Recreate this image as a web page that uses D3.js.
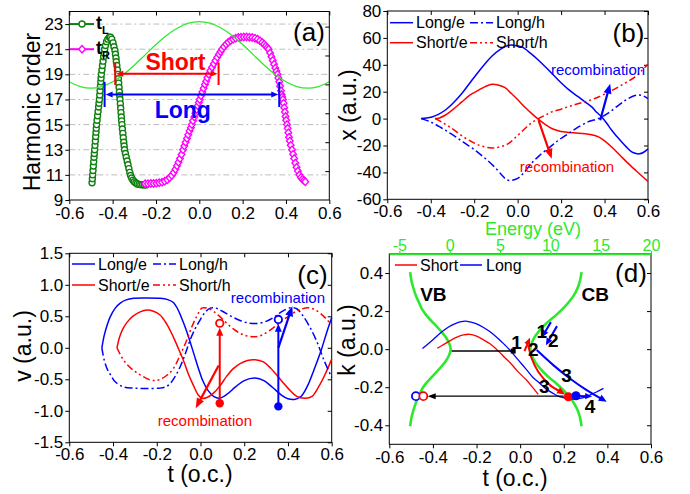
<!DOCTYPE html>
<html>
<head>
<meta charset="utf-8">
<script src="https://cdn.jsdelivr.net/npm/d3@7"></script>
<style>
  body { margin: 0; background: #fff; }
  svg { font-family: Arial, "Liberation Sans", sans-serif; }
</style>
</head>
<body>
<svg id="fig" width="690" height="494"></svg>
<script>
// ---------- shared ticks
const timeTicks = [-0.6, -0.4, -0.2, 0.0, 0.2, 0.4, 0.6];

// ---------- panel (a): harmonic order vs time
const orderTicks = [9, 11, 13, 15, 17, 19, 21, 23];
const orderRightTicks = [11.3, 13.6, 15.9, 18.2, 20.5, 22.8];
const fieldLine = [[-0.6,18.41],[-0.55,18.03],[-0.5,17.9],[-0.45,18.03],[-0.4,18.41],[-0.35,18.99],[-0.3,19.73],[-0.25,20.55],[-0.2,21.37],[-0.15,22.11],[-0.1,22.69],[-0.05,23.07],[0,23.2],[0.05,23.07],[0.1,22.69],[0.15,22.11],[0.2,21.37],[0.25,20.55],[0.3,19.73],[0.35,18.99],[0.4,18.41],[0.45,18.03],[0.5,17.9],[0.55,18.03],[0.6,18.41]];
const tLPoints = [[-0.495,10.37],[-0.4935,10.7],[-0.492,11.0],[-0.4905,11.35],[-0.489,11.7],[-0.4874,12.05],[-0.4858,12.4],[-0.4844,12.7],[-0.483,13.0],[-0.4814,13.35],[-0.4798,13.7],[-0.4783,14.05],[-0.4767,14.4],[-0.4754,14.7],[-0.474,15.0],[-0.4717,15.35],[-0.4695,15.7],[-0.4672,16.05],[-0.4649,16.4],[-0.463,16.7],[-0.461,17.0],[-0.4594,17.35],[-0.4579,17.7],[-0.4563,18.05],[-0.4547,18.4],[-0.4534,18.7],[-0.452,19.0],[-0.4494,19.35],[-0.4468,19.7],[-0.4441,20.05],[-0.4415,20.4],[-0.4393,20.7],[-0.437,21.0],[-0.433,21.3],[-0.428,21.6],[-0.422,21.8],[-0.415,21.95],[-0.41,21.95],[-0.404,21.8],[-0.398,21.5],[-0.394,21.2],[-0.3894,20.9],[-0.387,20.6],[-0.3846,20.3],[-0.383,20.0],[-0.3806,19.7],[-0.3778,19.35],[-0.375,19.0],[-0.3734,18.65],[-0.3719,18.3],[-0.3703,17.95],[-0.3687,17.6],[-0.3674,17.3],[-0.366,17.0],[-0.3644,16.65],[-0.3629,16.3],[-0.3613,15.95],[-0.3597,15.6],[-0.3584,15.3],[-0.357,15.0],[-0.3549,14.65],[-0.3528,14.3],[-0.3507,13.95],[-0.3486,13.6],[-0.3468,13.3],[-0.345,13.0],[-0.341,12.7],[-0.337,12.4],[-0.333,12.1],[-0.329,11.8],[-0.325,11.5],[-0.321,11.2],[-0.317,10.95],[-0.312,10.75],[-0.306,10.58],[-0.3,10.45],[-0.293,10.35],[-0.286,10.28],[-0.278,10.24],[-0.27,10.22],[-0.262,10.21],[-0.254,10.2],[-0.246,10.2]];
const tRPoints = [[-0.25,10.3],[-0.237,10.3],[-0.224,10.31],[-0.211,10.32],[-0.198,10.34],[-0.185,10.37],[-0.172,10.42],[-0.16,10.5],[-0.148,10.62],[-0.137,10.77],[-0.127,10.95],[-0.118,11.18],[-0.11,11.45],[-0.103,11.72],[-0.096,12.0],[-0.089,12.3],[-0.082,12.62],[-0.075,13.0],[-0.069,13.3],[-0.063,13.6],[-0.057,13.9],[-0.051,14.2],[-0.045,14.5],[-0.039,14.75],[-0.034,15.0],[-0.029,15.3],[-0.023,15.6],[-0.018,15.9],[-0.012,16.2],[-0.007,16.5],[-0.002,16.75],[0.002,17.0],[0.008,17.3],[0.014,17.6],[0.02,17.9],[0.026,18.2],[0.032,18.45],[0.037,18.72],[0.043,19.0],[0.051,19.28],[0.059,19.56],[0.067,19.84],[0.075,20.1],[0.083,20.35],[0.091,20.6],[0.098,20.8],[0.105,21.0],[0.114,21.2],[0.124,21.4],[0.134,21.56],[0.145,21.7],[0.156,21.8],[0.168,21.88],[0.18,21.93],[0.192,21.96],[0.205,21.97],[0.218,21.97],[0.231,21.96],[0.244,21.93],[0.257,21.88],[0.269,21.8],[0.28,21.68],[0.29,21.54],[0.299,21.4],[0.307,21.25],[0.314,21.12],[0.32,21.0],[0.327,20.7],[0.333,20.4],[0.339,20.1],[0.345,19.8],[0.351,19.5],[0.356,19.25],[0.361,19.0],[0.365,18.7],[0.369,18.4],[0.373,18.05],[0.377,17.7],[0.38,17.4],[0.383,17.2],[0.386,17.0],[0.389,16.7],[0.392,16.35],[0.395,16.0],[0.398,15.65],[0.401,15.35],[0.405,15.0],[0.408,14.7],[0.411,14.35],[0.414,14.0],[0.418,13.7],[0.422,13.35],[0.428,13.0],[0.433,12.65],[0.438,12.3],[0.443,11.95],[0.449,11.6],[0.455,11.3],[0.462,11.0],[0.469,10.8],[0.476,10.65],[0.483,10.55],[0.489,10.45]];
// [start t, end t, order of arrow, bar bottom, bar top]
const shortSpan = [-0.388, 0.089, 19.05, 18.15, 19.95];
const longSpan = [-0.437, 0.369, 17.4, 16.4, 18.4];

// ---------- panel (b): x (a.u.) vs time
const xPosTicks = [-60, -40, -20, 0, 20, 40, 60, 80];
const longEB = [[-0.445,0],[-0.42,0.4],[-0.395,1.2],[-0.365,3.2],[-0.334,6.2],[-0.3,11],[-0.257,18.6],[-0.22,26.5],[-0.181,34.7],[-0.15,40.8],[-0.119,46.4],[-0.08,51.5],[-0.045,54.4],[-0.02,54.6],[0.019,53.3],[0.06,48.5],[0.096,43.4],[0.14,36.5],[0.188,28.5],[0.235,21.5],[0.28,16.1],[0.31,12.5],[0.341,8.7],[0.365,4.5],[0.387,1.2],[0.41,-3.5],[0.433,-8.7],[0.456,-13.2],[0.479,-17.4],[0.5,-21],[0.525,-24.8],[0.545,-26],[0.56,-26.2],[0.58,-25],[0.6,-22.5]];
const longHB = [[-0.445,0],[-0.4,-2.5],[-0.35,-7],[-0.3,-12],[-0.25,-17.5],[-0.2,-23],[-0.15,-29.5],[-0.1,-37],[-0.07,-42.5],[-0.05,-45.5],[-0.03,-46],[0.0,-44.5],[0.03,-40],[0.065,-33],[0.1,-27.5],[0.15,-21],[0.188,-16.1],[0.23,-11.5],[0.28,-6.2],[0.33,-2],[0.372,0],[0.42,4.5],[0.464,9.9],[0.5,14],[0.54,17.2],[0.56,17.5],[0.58,16.8],[0.6,14.9]];
const shortEB = [[-0.38,0],[-0.36,0.5],[-0.334,2.5],[-0.3,6.5],[-0.257,12.4],[-0.22,17.5],[-0.181,21],[-0.15,23.8],[-0.119,25.5],[-0.09,25],[-0.058,23],[-0.03,18.8],[0.003,13.6],[0.035,8.2],[0.065,3.7],[0.09,0.3],[0.111,-2.5],[0.135,-5.2],[0.157,-7.4],[0.19,-9.2],[0.218,-9.9],[0.26,-10.6],[0.31,-11.2],[0.34,-12],[0.372,-13.6],[0.4,-16.5],[0.433,-21.1],[0.47,-27],[0.51,-33.5],[0.55,-39.5],[0.6,-46.7]];
const shortHB = [[-0.38,0],[-0.35,-2.5],[-0.32,-5.5],[-0.288,-9],[-0.25,-13.5],[-0.211,-17.2],[-0.17,-20.2],[-0.119,-21.8],[-0.08,-21],[-0.043,-18.6],[-0.01,-14],[0.034,-7.4],[0.065,-3],[0.096,0],[0.13,2.8],[0.157,5],[0.2,7],[0.24,9.2],[0.28,11.2],[0.33,13.5],[0.372,16.1],[0.42,19.8],[0.464,23.6],[0.5,27],[0.541,31],[0.57,35.5],[0.6,40.5]];
const recombLongB = [[0.38,-1.2],[0.426,26]];
const recombShortB = [[0.096,-1.2],[0.157,-29.8]];

// ---------- panel (c): v (a.u.) vs time
const velTicks = [-1.5, -1.0, -0.5, 0.0, 0.5, 1.0, 1.5];
const longEC = [[-0.451,0],[-0.44,0.2],[-0.425,0.38],[-0.413,0.49],[-0.39,0.63],[-0.367,0.71],[-0.34,0.76],[-0.306,0.785],[-0.25,0.79],[-0.185,0.785],[-0.15,0.765],[-0.124,0.72],[-0.105,0.62],[-0.086,0.47],[-0.067,0.3],[-0.048,0.1],[-0.03,-0.1],[-0.012,-0.3],[0.01,-0.52],[0.035,-0.68],[0.06,-0.77],[0.085,-0.8],[0.12,-0.74],[0.16,-0.62],[0.2,-0.52],[0.25,-0.48],[0.29,-0.52],[0.33,-0.63],[0.37,-0.75],[0.4,-0.81],[0.43,-0.82],[0.46,-0.77],[0.49,-0.6],[0.52,-0.34],[0.55,-0.06],[0.575,0.22],[0.6,0.48]];
const longHC = [[-0.451,0],[-0.44,-0.2],[-0.425,-0.35],[-0.413,-0.42],[-0.39,-0.54],[-0.352,-0.62],[-0.306,-0.64],[-0.25,-0.645],[-0.185,-0.64],[-0.16,-0.62],[-0.139,-0.57],[-0.115,-0.45],[-0.093,-0.3],[-0.07,-0.1],[-0.048,0.12],[-0.025,0.3],[-0.002,0.44],[0.02,0.56],[0.044,0.63],[0.07,0.63],[0.1,0.58],[0.13,0.52],[0.17,0.45],[0.211,0.4],[0.258,0.385],[0.3,0.42],[0.334,0.48],[0.37,0.57],[0.41,0.635],[0.44,0.62],[0.47,0.5],[0.5,0.33],[0.532,0.1],[0.565,-0.2],[0.6,-0.47]];
const shortEC = [[-0.382,0],[-0.37,0.17],[-0.355,0.3],[-0.337,0.4],[-0.31,0.5],[-0.276,0.57],[-0.245,0.6],[-0.215,0.58],[-0.185,0.52],[-0.155,0.38],[-0.124,0.17],[-0.1,-0.02],[-0.078,-0.2],[-0.055,-0.42],[-0.032,-0.6],[-0.012,-0.74],[0.006,-0.8],[0.03,-0.79],[0.059,-0.72],[0.09,-0.6],[0.12,-0.45],[0.15,-0.33],[0.181,-0.25],[0.215,-0.2],[0.25,-0.19],[0.285,-0.22],[0.32,-0.32],[0.36,-0.48],[0.4,-0.64],[0.44,-0.77],[0.48,-0.8],[0.51,-0.77],[0.54,-0.62],[0.57,-0.42],[0.6,-0.18]];
const shortHC = [[-0.382,0],[-0.36,-0.15],[-0.337,-0.26],[-0.306,-0.36],[-0.276,-0.43],[-0.23,-0.51],[-0.205,-0.52],[-0.185,-0.5],[-0.155,-0.44],[-0.124,-0.33],[-0.095,-0.13],[-0.063,0.12],[-0.04,0.33],[-0.017,0.5],[0.006,0.63],[0.03,0.63],[0.059,0.58],[0.09,0.49],[0.12,0.39],[0.15,0.3],[0.181,0.23],[0.21,0.19],[0.242,0.175],[0.28,0.2],[0.334,0.32],[0.37,0.42],[0.41,0.52],[0.45,0.6],[0.493,0.635],[0.52,0.61],[0.547,0.55],[0.575,0.46],[0.6,0.36]];
// [t, electron v, hole v]
const recombShortC = [0.088, -0.88, 0.39];
const recombLongC = [0.356, -0.93, 0.45];
const diagShortC = [[0.083,-0.28],[-0.022,-0.96]];
const diagLongC = [[0.356,0.0],[0.42,0.66]];

// ---------- panel (d): k (a.u.) vs time / energy
const kTicks = [-0.4, -0.2, 0.0, 0.2, 0.4];
const energyTicks = [-5, 0, 5, 10, 15, 20];
const valenceBand = [[-3.93,0.405],[-3.8,0.36],[-3.6,0.32],[-3.35,0.28],[-3.05,0.245],[-2.75,0.21],[-2.35,0.18],[-1.85,0.15],[-1.3,0.12],[-0.8,0.09],[-0.35,0.06],[-0.05,0.03],[0.1,0],[-0.05,-0.03],[-0.35,-0.06],[-0.8,-0.09],[-1.3,-0.12],[-1.85,-0.15],[-2.35,-0.18],[-2.75,-0.21],[-3.05,-0.245],[-3.35,-0.28],[-3.6,-0.32],[-3.8,-0.36],[-3.93,-0.405]];
const conductionBand = [[13.1,0.405],[12.95,0.36],[12.7,0.32],[12.3,0.28],[11.8,0.245],[11.2,0.21],[10.6,0.18],[9.9,0.15],[9.3,0.12],[8.8,0.09],[8.4,0.06],[8.15,0.03],[8.0,0],[8.15,-0.03],[8.4,-0.06],[8.8,-0.09],[9.3,-0.12],[9.9,-0.15],[10.6,-0.18],[11.2,-0.21],[11.8,-0.245],[12.3,-0.28],[12.7,-0.32],[12.95,-0.36],[13.1,-0.405]];
const longKD = [[-0.448,0.003],[-0.42,0.03],[-0.39,0.06],[-0.36,0.09],[-0.33,0.115],[-0.3,0.133],[-0.27,0.145],[-0.25,0.147],[-0.23,0.143],[-0.2,0.133],[-0.17,0.115],[-0.138,0.091],[-0.1,0.055],[-0.07,0.022],[-0.047,-0.005],[-0.01,-0.055],[0.031,-0.11],[0.06,-0.15],[0.091,-0.18],[0.12,-0.21],[0.152,-0.233],[0.18,-0.25],[0.213,-0.259],[0.235,-0.262],[0.259,-0.262],[0.29,-0.255],[0.32,-0.241],[0.35,-0.225],[0.382,-0.206]];
const shortKD = [[-0.38,0.005],[-0.35,0.025],[-0.32,0.045],[-0.29,0.063],[-0.26,0.075],[-0.23,0.078],[-0.2,0.068],[-0.17,0.05],[-0.138,0.028],[-0.1,-0.01],[-0.07,-0.045],[-0.047,-0.07],[-0.01,-0.118],[0.031,-0.165],[0.06,-0.205],[0.083,-0.238]];
const ionLineD = [[-0.314,-0.01],[-0.032,-0.01]];
const recombLineD = [[0.2,-0.247],[-0.424,-0.247]];
const electronDotsD = [[0.221,-0.25,"#ff0000"],[0.256,-0.245,"#0000ff"]];
const holeDotsD = [[-0.478,-0.247,"#0000ff"],[-0.444,-0.247,"#ff0000"]];
const shortUpD = [[0.02,-0.01],[0.045,0.06]];
const shortDownD = [[0.037,0.021],[0.053,-0.049],[0.083,-0.119],[0.137,-0.189],[0.206,-0.238]];
const longStep1D = [[0.141,0.142],[0.1,0.063]];
const longStep2D = [[0.169,0.121],[0.118,0.021]];
const longDownD = [[0.076,-0.005],[0.152,-0.084],[0.228,-0.154],[0.305,-0.215],[0.397,-0.277]];
const longSideD = [[0.26,-0.246],[0.33,-0.248]];
const stepLabelsD = [["1",-0.016,0.038],["2",0.06,-0.002],["1",0.099,0.096],["2",0.152,0.047],["3",0.213,-0.136],["3",0.111,-0.198],["4",0.32,-0.303]];

// ---------- colours
const BLUE = "#0000ff", RED = "#ff0000", MAG = "#ff00ff", DKGREEN = "#0f7f0f", GREEN = "#2ee82e";
const DASH_DOT = "8,3,2,3", DASH_DOT_DOT = "7,3,2,3,2,3";

const svg = d3.select("#fig");

// ---------- helpers
const fmt1 = d => d.toFixed(1);
const fmtInt = d => String(d);

function drawFrame(x, y, xTicks, yTicks, fmtX, fmtY, opts = {}) {
    const [xl, xr] = x.range(), [yb, yt] = y.range();
    const g = svg.append("g");
    g.append("g").attr("transform", `translate(0,${yb})`)
        .call(d3.axisBottom(x).tickValues(xTicks).tickFormat(fmtX).tickSize(4).tickPadding(opts.padX || 3).tickSizeOuter(0));
    g.append("g").attr("transform", `translate(${xl},0)`)
        .call(d3.axisLeft(y).tickValues(yTicks).tickFormat(fmtY).tickSize(4).tickPadding(2).tickSizeOuter(0));
    if (!opts.noTop) {
        g.append("g").attr("transform", `translate(0,${yt})`)
            .call(d3.axisTop(x).tickValues(xTicks).tickFormat("").tickSize(-4).tickSizeOuter(0));
    }
    g.append("g").attr("transform", `translate(${xr},0)`)
        .call(d3.axisRight(y).tickValues(opts.rightTicks || yTicks).tickFormat("").tickSize(-4).tickSizeOuter(0));
    g.selectAll(".domain").remove();
    g.selectAll("g").attr("font-family", null).attr("font-size", 17);
    g.selectAll(".tick text").attr("fill", "#000");
    g.selectAll(".tick line").attr("stroke", "#000");
    g.append("rect")
        .attr("x", xl).attr("y", yt).attr("width", xr - xl).attr("height", yb - yt)
        .attr("fill", "none").attr("stroke", "#000").attr("stroke-width", 1);
    return g;
}

function drawCurve(g, pts, x, y, color, dash, width = 1.5) {
    g.append("path").datum(pts)
        .attr("d", d3.line().x(d => x(d[0])).y(d => y(d[1])).curve(d3.curveCatmullRom.alpha(0.5)))
        .attr("fill", "none").attr("stroke", color).attr("stroke-width", width)
        .attr("stroke-dasharray", dash || null);
}

function arrowHead(g, xa, ya, xb, yb, color, len = 8, half = 3.5) {
    const a = Math.atan2(yb - ya, xb - xa);
    const c = Math.cos(a), s = Math.sin(a);
    const p = [[xb, yb],
        [xb - len * c + half * s, yb - len * s - half * c],
        [xb - len * c - half * s, yb - len * s + half * c]];
    g.append("polygon").attr("points", p.map(q => q.join(",")).join(" ")).attr("fill", color);
}

function drawArrow(g, pts, x, y, color, width = 2, len = 8, half = 3.5) {
    const px = pts.map(d => [x(d[0]), y(d[1])]);
    const n = px.length;
    const [xa, ya] = px[n - 2], [xb, yb] = px[n - 1];
    const a = Math.atan2(yb - ya, xb - xa);
    const trimmed = px.slice(0, n - 1).concat([[xb - len * 0.7 * Math.cos(a), yb - len * 0.7 * Math.sin(a)]]);
    g.append("path").datum(trimmed)
        .attr("d", d3.line().curve(n > 2 ? d3.curveCatmullRom : d3.curveLinear))
        .attr("fill", "none").attr("stroke", color).attr("stroke-width", width);
    arrowHead(g, xa, ya, xb, yb, color, len, half);
}

function addText(g, x, y, str, size, color = "#000", opts = {}) {
    const t = g.append("text").attr("x", x).attr("y", y).attr("dy", "0.35em")
        .attr("font-size", size).attr("fill", color)
        .attr("text-anchor", opts.anchor || "middle")
        .text(str);
    if (opts.bold) t.attr("font-weight", "bold");
    if (opts.rotate) t.attr("transform", `rotate(-90,${x},${y})`);
    return t;
}

function legendRow(g, x0, yRow, color, dash, label) {
    g.append("line").attr("x1", x0).attr("x2", x0 + 23).attr("y1", yRow).attr("y2", yRow)
        .attr("stroke", color).attr("stroke-width", 1.5).attr("stroke-dasharray", dash || null);
    addText(g, x0 + 26, yRow, label, 16, "#000", {anchor: "start"});
}

// =============== panel (a)
const xA = d3.scaleLinear().domain([-0.6, 0.6]).range([69.3, 329.3]);
const yA = d3.scaleLinear().domain([9, 24]).range([200, 11.5]);
const gA = svg.append("g");
gA.selectAll("line.grid").data(orderTicks.filter(d => d > 9)).join("line")
    .attr("x1", xA.range()[0]).attr("x2", xA.range()[1])
    .attr("y1", d => yA(d)).attr("y2", d => yA(d))
    .attr("stroke", "#bdbdbd").attr("stroke-width", 1).attr("stroke-dasharray", "6,3,2,3");
drawFrame(xA, yA, timeTicks, orderTicks, fmt1, fmtInt, {rightTicks: orderRightTicks, padX: 3});

const diamond = "M0,-3.7L3.3,0L0,3.7L-3.3,0Z";
gA.selectAll("circle.tl").data(tLPoints).join("circle")
    .attr("cx", d => xA(d[0])).attr("cy", d => yA(d[1])).attr("r", 3)
    .attr("fill", "#fff").attr("stroke", DKGREEN).attr("stroke-width", 1.4);
gA.selectAll("path.tr").data(tRPoints).join("path")
    .attr("d", diamond).attr("transform", d => `translate(${xA(d[0])},${yA(d[1])})`)
    .attr("fill", "#fff").attr("stroke", MAG).attr("stroke-width", 1.4);
drawCurve(gA, fieldLine, xA, yA, GREEN, null, 1.3);

function spanArrow(g, span, color) {
    const [t0, t1, q, qb, qt] = span;
    const xa = xA(t0), xb = xA(t1), yy = yA(q);
    g.append("line").attr("x1", xa + 5).attr("x2", xb - 5).attr("y1", yy).attr("y2", yy)
        .attr("stroke", color).attr("stroke-width", 2);
    arrowHead(g, xb, yy, xa + 1, yy, color, 7, 3);
    arrowHead(g, xa, yy, xb - 1, yy, color, 7, 3);
    [xa, xb].forEach(xx => g.append("line").attr("x1", xx).attr("x2", xx)
        .attr("y1", yA(qb)).attr("y2", yA(qt)).attr("stroke", color).attr("stroke-width", 2));
}
spanArrow(gA, shortSpan, RED);
spanArrow(gA, longSpan, BLUE);
addText(gA, xA(-0.11), yA(20.0), "Short", 23, RED, {bold: true});
addText(gA, xA(-0.076), yA(16.2), "Long", 23, BLUE, {bold: true});
addText(gA, 309, 32, "(a)", 26);

// legend (a)
gA.append("line").attr("x1", 70).attr("x2", 94).attr("y1", yA(23)).attr("y2", yA(23)).attr("stroke", DKGREEN).attr("stroke-width", 2);
gA.append("circle").attr("cx", 82).attr("cy", yA(23)).attr("r", 3).attr("fill", "#fff").attr("stroke", DKGREEN).attr("stroke-width", 1.4);
gA.append("line").attr("x1", 70).attr("x2", 94).attr("y1", yA(21)).attr("y2", yA(21)).attr("stroke", MAG).attr("stroke-width", 2);
gA.append("path").attr("d", diamond).attr("transform", `translate(82,${yA(21)})`).attr("fill", "#fff").attr("stroke", MAG).attr("stroke-width", 1.4);
[["L", 23], ["R", 21]].forEach(([sub, q]) => {
    const t = gA.append("text").attr("x", 96).attr("y", yA(q) + 5)
        .attr("font-size", 18).attr("font-weight", "bold").text("t");
    t.append("tspan").attr("font-size", 11).attr("dy", 5).text(sub);
});
addText(svg, 31.5, 112, "Harmonic order", 23, "#000", {rotate: true});

// =============== panel (b)
const xB = d3.scaleLinear().domain([-0.6, 0.6]).range([387.3, 648]);
const yB = d3.scaleLinear().domain([-60, 80]).range([199.3, 11]);
drawFrame(xB, yB, timeTicks, xPosTicks, fmt1, fmtInt, {padX: 2});
const gB = svg.append("g");
drawCurve(gB, longEB, xB, yB, BLUE);
drawCurve(gB, shortEB, xB, yB, RED);
drawCurve(gB, longHB, xB, yB, BLUE, DASH_DOT);
drawCurve(gB, shortHB, xB, yB, RED, DASH_DOT_DOT);
drawArrow(gB, recombLongB, xB, yB, BLUE, 2.2, 10, 4);
drawArrow(gB, recombShortB, xB, yB, RED, 2.2, 10, 4);
addText(gB, xB(0.37), yB(36), "recombination", 15, BLUE);
addText(gB, xB(0.227), yB(-36), "recombination", 15, RED);
legendRow(gB, 390, 22.7, BLUE, null, "Long/e");
legendRow(gB, 470, 22.7, BLUE, DASH_DOT, "Long/h");
legendRow(gB, 390, 42.7, RED, null, "Short/e");
legendRow(gB, 470, 42.7, RED, DASH_DOT_DOT, "Short/h");
addText(gB, 628.5, 33, "(b)", 26);
addText(svg, 348, 105, "x (a.u.)", 23, "#000", {rotate: true});

// =============== panel (c)
const xC = d3.scaleLinear().domain([-0.6, 0.6]).range([69.3, 331.7]);
const yC = d3.scaleLinear().domain([-1.5, 1.5]).range([442.3, 253.3]);
drawFrame(xC, yC, timeTicks, velTicks, fmt1, fmt1, {padX: 2});
const gC = svg.append("g");
drawCurve(gC, longEC, xC, yC, BLUE);
drawCurve(gC, shortEC, xC, yC, RED);
drawCurve(gC, longHC, xC, yC, BLUE, DASH_DOT);
drawCurve(gC, shortHC, xC, yC, RED, DASH_DOT_DOT);
[[recombShortC, RED], [recombLongC, BLUE]].forEach(([r, col]) => {
    const [t, ve, vh] = r;
    drawArrow(gC, [[t, ve], [t, vh - 0.07]], xC, yC, col, 2, 8, 3.5);
    gC.append("circle").attr("cx", xC(t)).attr("cy", yC(ve)).attr("r", 4.2).attr("fill", col);
    gC.append("circle").attr("cx", xC(t)).attr("cy", yC(vh)).attr("r", 3.7)
        .attr("fill", "#fff").attr("stroke", col).attr("stroke-width", 1.8);
});
drawArrow(gC, diagShortC, xC, yC, RED, 2.2, 10, 4);
drawArrow(gC, diagLongC, xC, yC, BLUE, 2.2, 10, 4);
addText(gC, xC(0.02), yC(-1.16), "recombination", 15, RED);
addText(gC, xC(0.354), yC(0.8), "recombination", 15, BLUE);
legendRow(gC, 72, 264, BLUE, null, "Long/e");
legendRow(gC, 153, 264, BLUE, DASH_DOT, "Long/h");
legendRow(gC, 72, 285, RED, null, "Short/e");
legendRow(gC, 153, 285, RED, DASH_DOT_DOT, "Short/h");
addText(gC, 312.5, 275, "(c)", 26);
addText(svg, 22.5, 346, "v (a.u.)", 23, "#000", {rotate: true});
addText(svg, 200, 474, "t (o.c.)", 23);

// =============== panel (d)
const xD = d3.scaleLinear().domain([-0.6, 0.6]).range([389.3, 651]);
const yD = d3.scaleLinear().domain([-0.5, 0.5]).range([444.3, 254]);
const eD = d3.scaleLinear().domain([-6, 20]).range([389.3, 651]);
drawFrame(xD, yD, timeTicks, kTicks, fmt1, fmt1, {noTop: true, padX: 3});
const topAxis = svg.append("g").attr("transform", `translate(0,${yD.range()[1]})`)
    .call(d3.axisTop(eD).tickValues(energyTicks).tickFormat(fmtInt).tickSize(3).tickPadding(0).tickSizeOuter(0));
topAxis.attr("font-family", null).attr("font-size", 16);
topAxis.select(".domain").attr("stroke", GREEN).attr("stroke-width", 1.5);
topAxis.selectAll(".tick line").attr("stroke", GREEN).attr("stroke-width", 1.2);
topAxis.selectAll(".tick text").attr("fill", GREEN);
addText(svg, 533, 229, "Energy (eV)", 18, GREEN);

const gD = svg.append("g");
[valenceBand, conductionBand].forEach(band => {
    gD.append("path").datum(band)
        .attr("d", d3.line().x(d => eD(d[0])).y(d => yD(d[1])).curve(d3.curveCatmullRom.alpha(0.5)))
        .attr("fill", "none").attr("stroke", GREEN).attr("stroke-width", 2.6);
});
drawCurve(gD, longKD, xD, yD, BLUE, null, 1.3);
drawCurve(gD, shortKD, xD, yD, RED, null, 1.3);
// ionisation (black line + square) and recombination (black arrow)
gD.append("line").attr("x1", xD(ionLineD[0][0])).attr("x2", xD(ionLineD[1][0]))
    .attr("y1", yD(ionLineD[0][1])).attr("y2", yD(ionLineD[1][1]))
    .attr("stroke", "#000").attr("stroke-width", 1.4);
gD.append("rect").attr("x", xD(ionLineD[1][0]) - 2.5).attr("y", yD(ionLineD[1][1]) - 2.5)
    .attr("width", 5).attr("height", 5).attr("fill", "#000");
drawArrow(gD, recombLineD, xD, yD, "#000", 1.4, 8, 3);
drawArrow(gD, shortUpD, xD, yD, RED, 2, 7, 3.2);
drawArrow(gD, shortDownD, xD, yD, RED, 2, 8, 3.5);
drawArrow(gD, longStep1D, xD, yD, BLUE, 2, 7, 3.2);
drawArrow(gD, longStep2D, xD, yD, BLUE, 2, 7, 3.2);
drawArrow(gD, longDownD, xD, yD, BLUE, 2, 8, 3.5);
drawArrow(gD, longSideD, xD, yD, BLUE, 2, 7, 3.2);
electronDotsD.forEach(([t, k, col]) => gD.append("circle")
    .attr("cx", xD(t)).attr("cy", yD(k)).attr("r", 4.5).attr("fill", col));
holeDotsD.forEach(([t, k, col]) => gD.append("circle")
    .attr("cx", xD(t)).attr("cy", yD(k)).attr("r", 4)
    .attr("fill", "#fff").attr("stroke", col).attr("stroke-width", 1.8));
stepLabelsD.forEach(([s, t, k]) => addText(gD, xD(t), yD(k), s, 19, "#000", {bold: true}));
addText(gD, xD(-0.398), yD(0.29), "VB", 19, "#000", {bold: true});
addText(gD, xD(0.344), yD(0.29), "CB", 19, "#000", {bold: true});
gD.append("line").attr("x1", 395).attr("x2", 417).attr("y1", 265).attr("y2", 265).attr("stroke", RED).attr("stroke-width", 1.5);
addText(gD, 420, 265, "Short", 16, "#000", {anchor: "start"});
gD.append("line").attr("x1", 460).attr("x2", 482).attr("y1", 265).attr("y2", 265).attr("stroke", BLUE).attr("stroke-width", 1.5);
addText(gD, 486, 265, "Long", 16, "#000", {anchor: "start"});
addText(gD, 631, 273, "(d)", 26);
addText(svg, 347, 340, "k (a.u.)", 23, "#000", {rotate: true});
addText(svg, 515, 478, "t (o.c.)", 23);
</script>
</body>
</html>
